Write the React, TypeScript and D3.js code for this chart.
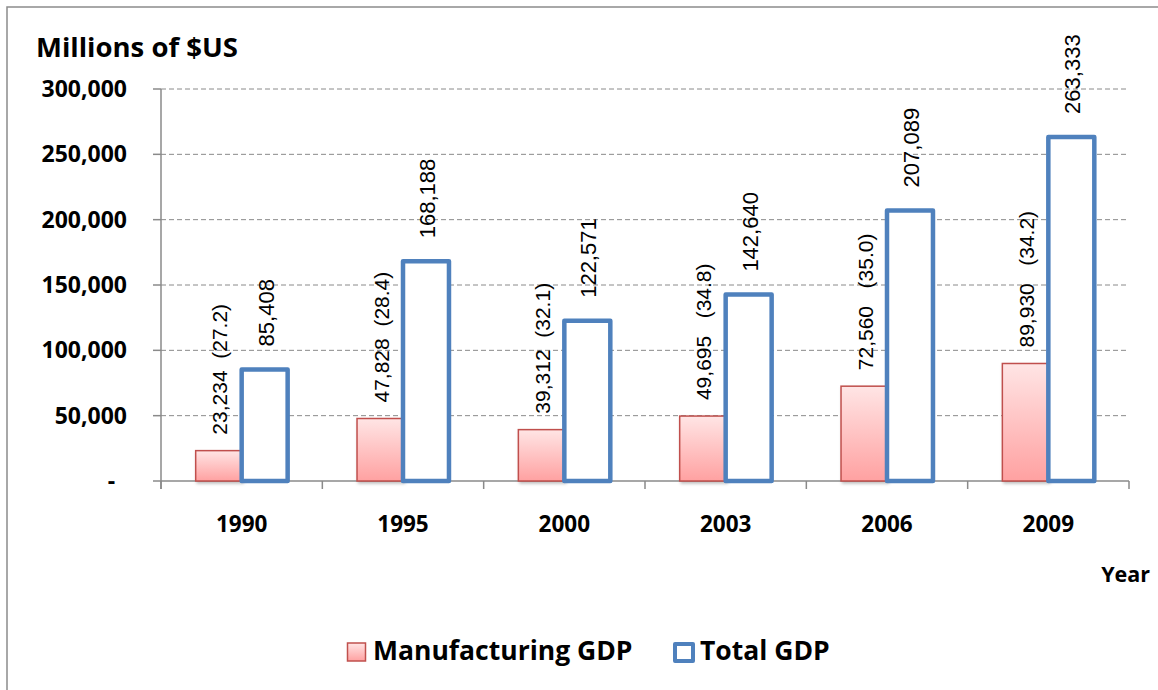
import React from "react";
import * as d3 from "d3";

// Chart data
const years = ["1990", "1995", "2000", "2003", "2006", "2009"];
const manufacturingGdp = [23234, 47828, 39312, 49695, 72560, 89930];
const manufacturingShare = ["(27.2)", "(28.4)", "(32.1)", "(34.8)", "(35.0)", "(34.2)"];
const shareSeparators = ["  ", "  ", "  ", "   ", "   ", "   "];
const totalGdp = [85408, 168188, 122571, 142640, 207089, 263333];
const yTicks = [0, 50000, 100000, 150000, 200000, 250000, 300000];
const seriesNames = ["Manufacturing GDP", "Total GDP"];

const W = 1158;
const H = 690;
const plot = { left: 161, right: 1129, top: 89, bottom: 481 };

const BOLD_FONT = "'Open Sans', 'DejaVu Sans', sans-serif";
const LABEL_FONT = "'Liberation Sans', Arial, sans-serif";
const GRID = "#8a8a8a";
const RED = "#C0504D";
const BLUE = "#4F81BD";

export default function App() {
  const x = d3
    .scaleBand<string>()
    .domain(years)
    .range([plot.left, plot.right])
    .paddingInner(0.43)
    .paddingOuter(0.215);
  const x1 = d3
    .scaleBand<string>()
    .domain(["manufacturing", "total"])
    .range([0, x.bandwidth()]);
  const y = d3.scaleLinear().domain([0, 300000]).range([plot.bottom, plot.top]);
  const fmt = d3.format(",");
  const tickFmt = (v: number) => (v === 0 ? "-  " : fmt(v));

  // category boundaries for the x-axis tick marks
  const step = x.step();
  const boundaries = d3.range(years.length + 1).map((i) => plot.left + i * step);

  return (
    <svg
      width={W}
      height={H}
      style={{ position: "absolute", left: 0, top: 0, background: "#fff" }}
    >
      <defs>
        <linearGradient id="manufFill" x1="0" y1="0" x2="0" y2="1">
          <stop offset="0%" stopColor="#FFE5E5" />
          <stop offset="100%" stopColor="#FFA1A1" />
        </linearGradient>
        <filter id="barShadow" x="-20%" y="-20%" width="140%" height="140%">
          <feDropShadow dx="1.5" dy="2" stdDeviation="1.5" floodColor="#000" floodOpacity="0.25" />
        </filter>
      </defs>

      {/* chart area border */}
      <rect x={7} y={7} width={W + 20} height={H + 20} fill="#fff" stroke="#8c8c8c" strokeWidth={1.5} />

      {/* y-axis title */}
      <text x={36} y={57} fontFamily={BOLD_FONT} fontWeight={700} fontSize={27.5} fill="#000">
        Millions of $US
      </text>

      {/* gridlines */}
      {yTicks
        .filter((t) => t > 0)
        .map((t) => (
          <line
            key={"g" + t}
            x1={plot.left}
            x2={plot.right}
            y1={y(t)}
            y2={y(t)}
            stroke={GRID}
            strokeWidth={1}
            strokeDasharray="5,3"
          />
        ))}

      {/* y axis */}
      <line x1={plot.left} x2={plot.left} y1={plot.top} y2={plot.bottom + 8} stroke={GRID} strokeWidth={1.5} />
      {yTicks.map((t) => (
        <g key={"yt" + t}>
          <line x1={plot.left - 8} x2={plot.left} y1={y(t)} y2={y(t)} stroke={GRID} strokeWidth={1.5} />
          <text
            x={127}
            y={y(t) + 8}
            textAnchor="end"
            fontFamily={BOLD_FONT}
            fontWeight={700}
            fontSize={23}
            fill="#000"
            style={{ whiteSpace: "pre" }}
          >
            {tickFmt(t)}
          </text>
        </g>
      ))}

      {/* x axis */}
      <line x1={plot.left} x2={plot.right} y1={plot.bottom} y2={plot.bottom} stroke={GRID} strokeWidth={1.5} />
      {boundaries.map((bx, i) => (
        <line key={"xt" + i} x1={bx} x2={bx} y1={plot.bottom} y2={plot.bottom + 8} stroke={GRID} strokeWidth={1.5} />
      ))}
      {years.map((yr) => (
        <text
          key={"xl" + yr}
          x={(x(yr) as number) + x.bandwidth() / 2}
          y={532}
          textAnchor="middle"
          fontFamily={BOLD_FONT}
          fontWeight={700}
          fontSize={22.5}
          fill="#000"
        >
          {yr}
        </text>
      ))}
      <text x={1150} y={582} textAnchor="end" fontFamily={BOLD_FONT} fontWeight={700} fontSize={21.5} fill="#000">
        Year
      </text>

      {/* manufacturing bars */}
      {years.map((yr, i) => {
        const bx = (x(yr) as number) + (x1("manufacturing") as number);
        const by = y(manufacturingGdp[i]);
        return (
          <rect
            key={"m" + yr}
            x={bx}
            y={by}
            width={x1.bandwidth()}
            height={plot.bottom - by}
            fill="url(#manufFill)"
            stroke={RED}
            strokeWidth={1.5}
            filter="url(#barShadow)"
          />
        );
      })}

      {/* total bars */}
      {years.map((yr, i) => {
        const bx = (x(yr) as number) + (x1("total") as number);
        const by = y(totalGdp[i]);
        return (
          <rect
            key={"t" + yr}
            x={bx}
            y={by}
            width={x1.bandwidth()}
            height={plot.bottom - by}
            fill="#fff"
            stroke={BLUE}
            strokeWidth={4.5}
            strokeLinejoin="round"
          />
        );
      })}

      {/* rotated value labels */}
      {years.map((yr, i) => {
        const cx = (x(yr) as number) + (x1("manufacturing") as number) + x1.bandwidth() / 2 + 1;
        const ty = y(manufacturingGdp[i]) - 16;
        return (
          <text
            key={"ml" + yr}
            transform={`translate(${cx},${ty}) rotate(-90)`}
            dy="0.36em"
            fontFamily={LABEL_FONT}
            fontSize={21}
            fill="#000"
            style={{ whiteSpace: "pre" }}
          >
            {fmt(manufacturingGdp[i]) + shareSeparators[i] + manufacturingShare[i]}
          </text>
        );
      })}
      {years.map((yr, i) => {
        const cx = (x(yr) as number) + (x1("total") as number) + x1.bandwidth() / 2 + 1;
        const ty = y(totalGdp[i]) - 23;
        return (
          <text
            key={"tl" + yr}
            transform={`translate(${cx},${ty}) rotate(-90)`}
            dy="0.36em"
            fontFamily={LABEL_FONT}
            fontSize={22}
            fill="#000"
          >
            {fmt(totalGdp[i])}
          </text>
        );
      })}

      {/* legend */}
      <rect x={347.5} y={643} width={18} height={18} fill="url(#manufFill)" stroke={RED} strokeWidth={1.5} />
      <text x={373} y={660} fontFamily={BOLD_FONT} fontWeight={700} fontSize={26.5} fill="#000">
        {seriesNames[0]}
      </text>
      <rect x={675} y={644} width={18} height={17} fill="#fff" stroke={BLUE} strokeWidth={4} strokeLinejoin="round" />
      <text x={700} y={660} fontFamily={BOLD_FONT} fontWeight={700} fontSize={26.5} fill="#000">
        {seriesNames[1]}
      </text>
    </svg>
  );
}
